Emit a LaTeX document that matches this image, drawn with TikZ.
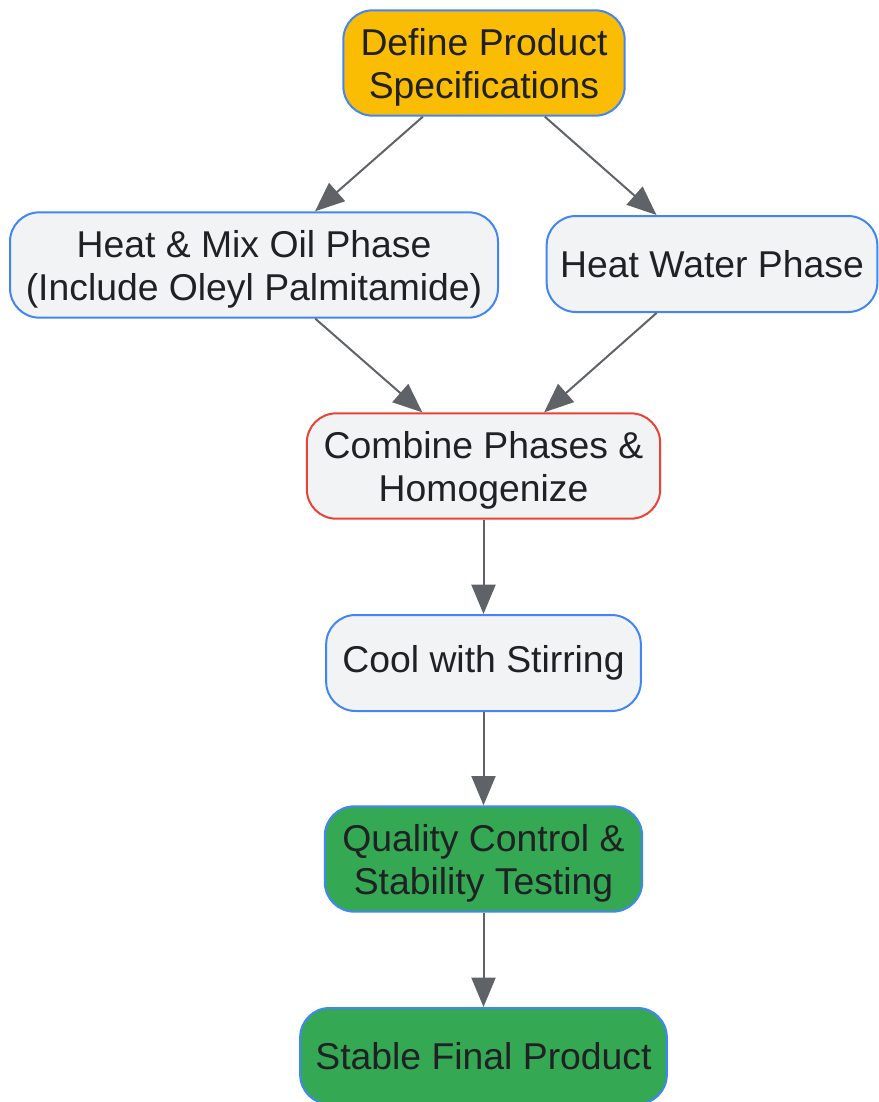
\documentclass[tikz,border=0pt]{standalone}
\usepackage{fontspec}
\setmainfont{Liberation Sans}
\usepackage{tikz}
\usetikzlibrary{arrows.meta}
\usetikzlibrary{positioning}
\definecolor{mblue}{rgb}{0.259, 0.522, 0.957}
\definecolor{morange}{rgb}{0.984, 0.737, 0.016}
\definecolor{mgrey}{rgb}{0.945, 0.953, 0.957}
\definecolor{mred}{rgb}{0.918, 0.263, 0.208}
\definecolor{mgreen}{rgb}{0.204, 0.659, 0.325}
\definecolor{mtext}{rgb}{0.125, 0.129, 0.141}
\definecolor{marrow}{rgb}{0.373, 0.388, 0.408}
\newcommand{\topstrut}{\rule{0pt}{26.5pt}}
\tikzset{box/.style = {draw = mblue, fill = mgrey, line width = 1.5pt,
                       rounded corners = 22pt, align = center, text = mtext,
                       font = \fontsize{28}{32}\selectfont, inner sep = 0}}
\tikzset{link/.style = {draw = marrow, line width = 1.5pt,
                        -{Triangle[length = 22pt, width = 18pt]}}}

\begin{document}
\begin{tikzpicture}[x = 0.75pt, y = -0.75pt]
    \useasboundingbox (0, 0) rectangle (878, 1102);

    \node [box, fill = morange, minimum width = 211pt, minimum height = 79pt] (spec) at (484, 63) {\topstrut Define Product\\Specifications};
    \node [box, minimum width = 366pt, minimum height = 79pt] (oil) at (254, 265) {\topstrut Heat \& Mix Oil Phase\\(Include Oleyl Palmitamide)};
    \node [box, minimum width = 248pt, minimum height = 72pt] (water) at (712, 264) {Heat Water Phase};
    \node [box, draw = mred, minimum width = 265pt, minimum height = 79pt] (combine) at (483.5, 466) {\topstrut Combine Phases \&\\Homogenize};
    \node [box, minimum width = 236pt, minimum height = 72pt] (cool) at (483.5, 663) {Cool with Stirring};
    \node [box, fill = mgreen, minimum width = 238pt, minimum height = 79pt] (qc) at (483.5, 859) {\topstrut Quality Control \&\\Stability Testing};
    \node [box, fill = mgreen, minimum width = 275pt, minimum height = 72pt] (final) at (483.5, 1056) {Stable Final Product};

    \draw [link] (spec) -- (oil);
    \draw [link] (spec) -- (water);
    \draw [link] (oil) -- (combine);
    \draw [link] (water) -- (combine);
    \draw [link] (combine) -- (cool);
    \draw [link] (cool) -- (qc);
    \draw [link] (qc) -- (final);
  \end{tikzpicture}
\end{document}
